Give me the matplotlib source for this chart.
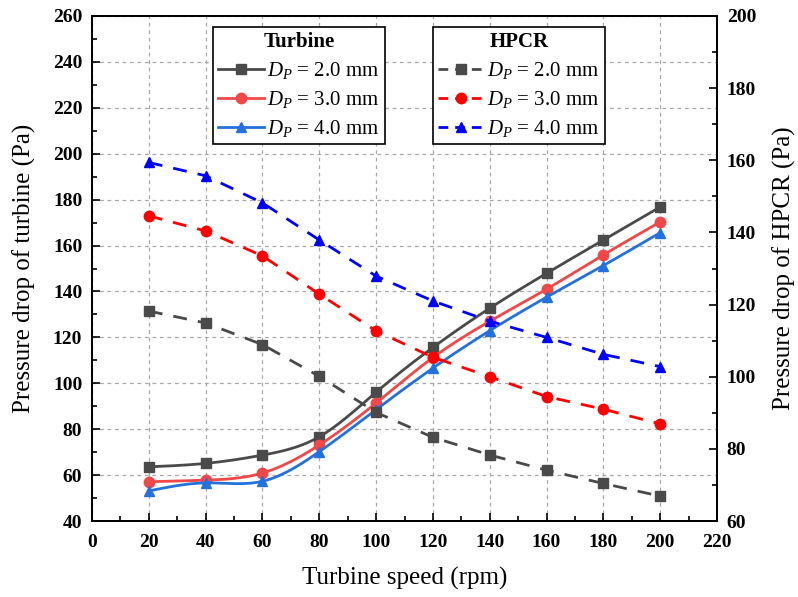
import numpy as np
import matplotlib.pyplot as plt
from matplotlib.ticker import MultipleLocator

plt.rcParams['font.family'] = ['Liberation Serif', 'DejaVu Serif']
plt.rcParams['font.weight'] = 'bold'
plt.rcParams['mathtext.fontset'] = 'custom'
plt.rcParams['mathtext.rm'] = 'Liberation Serif:weight=normal'
plt.rcParams['mathtext.it'] = 'Liberation Serif:style=italic:weight=normal'

# 转速 (rpm)
speed = [20, 40, 60, 80, 100, 120, 140, 160, 180, 200]

# 涡轮压降 (Pa), 左轴
turb_20 = [63.6, 65.1, 68.7, 76.7, 96.1, 115.6, 132.7, 147.9, 162.4, 176.8]
turb_30 = [57.1, 57.8, 60.9, 73.1, 91.4, 111.2, 127.0, 141.0, 155.9, 170.3]
turb_40 = [53.1, 56.6, 57.3, 70.2, 88.5, 106.6, 122.9, 137.5, 151.3, 165.6]

# HPCR 压降 (Pa), 右轴
hpcr_20 = [118.2, 114.9, 108.9, 100.1, 90.1, 83.2, 78.3, 74.1, 70.4, 66.9]
hpcr_30 = [144.6, 140.4, 133.5, 122.9, 112.7, 105.4, 100.0, 94.5, 91.0, 86.9]
hpcr_40 = [159.4, 155.7, 148.2, 137.9, 127.9, 121.0, 115.4, 110.9, 106.2, 102.8]

labels = ['$D_P$ = 2.0 mm', '$D_P$ = 3.0 mm', '$D_P$ = 4.0 mm']


def spline(x, y, n=300):
    # 自然三次样条, 让实线平滑
    x = np.asarray(x, float)
    y = np.asarray(y, float)
    m = len(x)
    h = np.diff(x)
    A = np.zeros((m, m))
    b = np.zeros(m)
    A[0, 0] = A[-1, -1] = 1
    for i in range(1, m - 1):
        A[i, i - 1] = h[i - 1]
        A[i, i] = 2 * (h[i - 1] + h[i])
        A[i, i + 1] = h[i]
        b[i] = 6 * ((y[i + 1] - y[i]) / h[i] - (y[i] - y[i - 1]) / h[i - 1])
    M = np.linalg.solve(A, b)
    xs = np.linspace(x[0], x[-1], n)
    idx = np.clip(np.searchsorted(x, xs) - 1, 0, m - 2)
    x0, x1 = x[idx], x[idx + 1]
    hh = x1 - x0
    ys = (M[idx] * (x1 - xs) ** 3 / (6 * hh) + M[idx + 1] * (xs - x0) ** 3 / (6 * hh)
          + (y[idx] / hh - M[idx] * hh / 6) * (x1 - xs)
          + (y[idx + 1] / hh - M[idx + 1] * hh / 6) * (xs - x0))
    return xs, ys


fig = plt.figure(figsize=(7.98, 5.97), dpi=100)
ax = fig.add_axes([0.1153, 0.1273, 0.7832, 0.8459])
ax2 = ax.twinx()

# 实线: 涡轮
turb_cols = ['#4a4a4a', '#f04848', '#2471dc']
turb_mk = ['s', 'o', '^']
turb_handles = []
for data, c, mk, lab in zip([turb_20, turb_30, turb_40], turb_cols, turb_mk, labels):
    xs, ys = spline(speed, data)
    ax.plot(xs, ys, '-', color=c, lw=2)
    ax.plot(speed, data, mk, color=c, ms=7.5, ls='none')
    h, = ax.plot([], [], '-', color=c, lw=2, marker=mk, ms=7.5, label=lab)
    turb_handles.append(h)

# 虚线: HPCR
hpcr_cols = ['#4a4a4a', '#ff0000', '#0000ff']
hpcr_handles = []
for data, c, mk, lab in zip([hpcr_20, hpcr_30, hpcr_40], hpcr_cols, turb_mk, labels):
    ax2.plot(speed, data, '--', color=c, lw=2, marker=mk, ms=7.5, dashes=(5, 4))
    h, = ax2.plot([], [], '--', color=c, lw=2, marker=mk, ms=7.5,
                  dashes=(3.5, 2.5), label=lab)
    hpcr_handles.append(h)

ax.set_xlim(0, 220)
ax.set_ylim(40, 260)
ax2.set_ylim(60, 200)

ax.xaxis.set_major_locator(MultipleLocator(20))
ax.xaxis.set_minor_locator(MultipleLocator(10))
ax.yaxis.set_major_locator(MultipleLocator(20))
ax.yaxis.set_minor_locator(MultipleLocator(10))
ax2.yaxis.set_major_locator(MultipleLocator(20))
ax2.yaxis.set_minor_locator(MultipleLocator(10))

ax.grid(True, which='major', color='#a8a8a8', ls=(0, (3, 3)), lw=0.9)
ax.set_axisbelow(True)

for a in (ax, ax2):
    a.tick_params(which='major', direction='in', length=6, width=1.2,
                  labelsize=14, pad=7)
    a.tick_params(which='minor', direction='in', length=3.5, width=1.2)
    for s in a.spines.values():
        s.set_linewidth(1.3)
ax.tick_params(axis='x', top=False, which='both', pad=9)
ax.tick_params(axis='y', right=False, which='both')

ax.set_xlabel('Turbine speed (rpm)', fontsize=18, fontweight='normal', labelpad=12)
ax.set_ylabel('Pressure drop of turbine (Pa)', fontsize=18, fontweight='normal',
              labelpad=12)
ax2.set_ylabel('Pressure drop of HPCR (Pa)', fontsize=18, fontweight='normal',
               labelpad=12)

leg_kw = dict(prop={'size': 15, 'weight': 'normal'}, frameon=True, fancybox=False,
              edgecolor='black', framealpha=1, handlelength=2.2, handletextpad=0.15,
              borderpad=0.25, labelspacing=0.38, borderaxespad=0,
              title_fontproperties={'weight': 'bold', 'size': 15})
leg1 = ax2.legend(handles=turb_handles, title='Turbine', loc='upper left',
                  bbox_to_anchor=(213 / 798, 1 - 27 / 597),
                  bbox_transform=fig.transFigure, **leg_kw)
leg1.get_frame().set_linewidth(1.2)
ax2.add_artist(leg1)
leg2 = ax2.legend(handles=hpcr_handles, title='HPCR', loc='upper left',
                  bbox_to_anchor=(433 / 798, 1 - 27 / 597),
                  bbox_transform=fig.transFigure, **leg_kw)
leg2.get_frame().set_linewidth(1.2)

fig.savefig('out.png', dpi=100)
